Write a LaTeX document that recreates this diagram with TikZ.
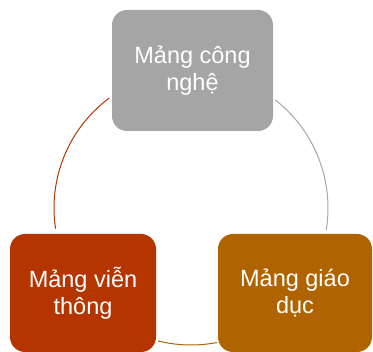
\documentclass[tikz,border=0pt]{standalone}
\usepackage{fontspec}
\setmainfont{Liberation Sans}
\definecolor{boxgray}{HTML}{A5A5A5}
\definecolor{boxred}{HTML}{B53500}
\definecolor{boxbrown}{HTML}{AF6400}
\tikzset{
  cyclebox/.style={rounded corners=15pt, inner sep=0pt, align=center, text=white,
    font=\fontsize{23.5}{27}\selectfont},
  cyclearc/.style={line width=1pt}
}
\begin{document}
\begin{tikzpicture}[x=1pt,y=1pt]
\useasboundingbox (0,0) rectangle (373,352);
\coordinate (c) at (191,144);
\draw[cyclearc, boxred] (c) ++(126.6:137) arc[start angle=126.6, end angle=188.7, radius=137];
\draw[cyclearc, boxgray] (c) ++(52:137) arc[start angle=52, end angle=-9.2, radius=137];
\draw[cyclearc, boxbrown] (c) ++(281:137) arc[start angle=281, end angle=256, radius=137];
\node[cyclebox, fill=boxgray, minimum width=161pt, minimum height=121pt] (tech) at (192.5,281.5) {Mảng công\\nghệ};
\node[cyclebox, fill=boxred, minimum width=146pt, minimum height=118pt] (tele) at (83,59) {Mảng viễn\\thông};
\node[cyclebox, fill=boxbrown, minimum width=154pt, minimum height=118pt] (edu) at (295,59) {Mảng giáo\\dục};
\end{tikzpicture}
\end{document}
